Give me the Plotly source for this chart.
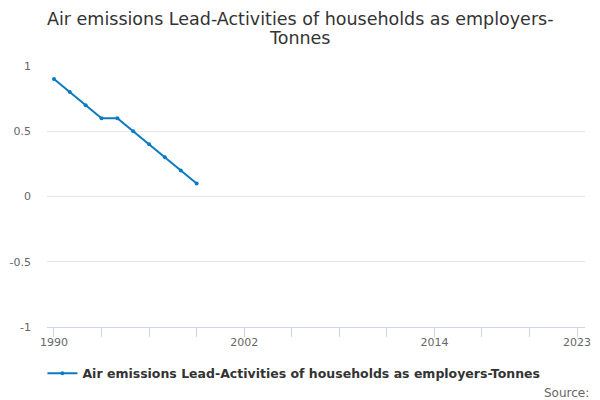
import plotly.graph_objects as go

years = [1990, 1991, 1992, 1993, 1994, 1995, 1996, 1997, 1998, 1999]
tonnes = [0.9, 0.8, 0.7, 0.6, 0.6, 0.5, 0.4, 0.3, 0.2, 0.1]

x_ticks = list(range(1990, 2024, 3))
x_labels = ["1990" if y == 1990 else "2002" if y == 2002 else "2014" if y == 2014 else "2023" if y == 2023 else "" for y in x_ticks]
y_ticks = [-1, -0.5, 0, 0.5, 1]
y_labels = ["-1", "-0.5", "0", "0.5", "1"]

name = "Air emissions Lead-Activities of households as employers-Tonnes"
title_lines = ["Air emissions Lead-Activities of households as employers-", "Tonnes"]
line_color = "#0b7bc1"

fig = go.Figure()
fig.add_trace(go.Scatter(x=years, y=tonnes, mode="lines+markers", name=name,
                         line=dict(color=line_color, width=2),
                         marker=dict(color=line_color, size=4)))

fig.update_layout(
    width=600, height=400,
    margin=dict(l=47, r=15, t=66, b=73, autoexpand=False),
    paper_bgcolor="white", plot_bgcolor="white",
    font=dict(family="DejaVu Sans", color="#666666", size=11),
    showlegend=True,
    legend=dict(orientation="h", x=0.459, xanchor="center", y=-0.121, yanchor="top",
                font=dict(family="DejaVu Sans", size=12.5, color="#333333", weight="bold"),
                itemwidth=30),
)
# title drawn as two centred lines (Highcharts-like tight line spacing)
for i, txt in enumerate(title_lines):
    fig.add_annotation(text=txt, xref="paper", yref="paper",
                       x=(300 - 47) / 538, y=1 + (66 - 19 - 19 * i) / 261,
                       xanchor="center", yanchor="middle", showarrow=False,
                       font=dict(family="DejaVu Sans", size=17.5, color="#333333"))
fig.update_xaxes(range=[1989.56, 2023.5], tickvals=x_ticks, ticktext=x_labels,
                 showgrid=False, zeroline=False, showline=True, linecolor="#ccd6eb",
                 ticks="outside", ticklen=9, tickcolor="#ccd6eb", automargin=False,
                 ticklabelstandoff=-4,
                 tickfont=dict(size=11, color="#666666"))
fig.update_yaxes(range=[-1, 1], tickvals=y_ticks, ticktext=y_labels,
                 showgrid=True, gridcolor="#e6e6e6", zeroline=False, showline=False,
                 ticks="", ticklabelstandoff=15, automargin=False,
                 tickfont=dict(size=11, color="#666666"))
fig.add_annotation(text="Source:", xref="paper", yref="paper", x=1.011, y=-0.218,
                   xanchor="right", yanchor="top", showarrow=False,
                   font=dict(family="DejaVu Sans", size=12, color="#666666"))

# page body has a default 8px margin; drop it so the 600x400 figure fills the window
fig.write_html("out.html", config={"displayModeBar": False},
               post_script="document.body.style.margin='0';")
